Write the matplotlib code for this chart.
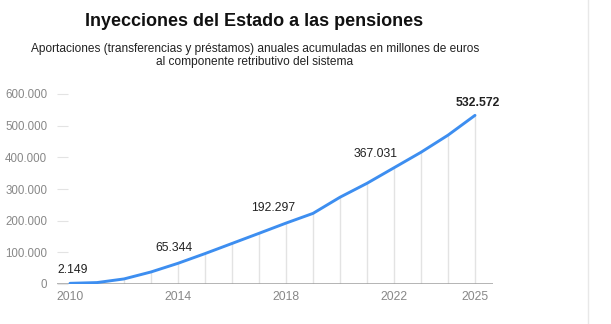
import matplotlib
matplotlib.use("Agg")
import matplotlib.pyplot as plt
from matplotlib.ticker import FuncFormatter

plt.rcParams['font.family'] = ['Liberation Sans', 'DejaVu Sans']

years = [2010, 2011, 2012, 2013, 2014, 2015, 2016, 2017,
         2018, 2019, 2020, 2021, 2022, 2023, 2024, 2025]
values = [2149, 4500, 16000, 38000, 65344, 96000, 128000, 160000,
          192297, 223000, 274000, 318000, 367031, 416000, 470000, 532572]
label_years = [2010, 2014, 2018, 2022, 2025]
label_texts = ["2.149", "65.344", "192.297", "367.031", "532.572"]
xtick_years = [2010, 2014, 2018, 2022, 2025]
ytick_values = [0, 100000, 200000, 300000, 400000, 500000, 600000]

title = "Inyecciones del Estado a las pensiones"
subtitle = ("Aportaciones (transferencias y préstamos) anuales acumuladas en millones de euros\n"
            "al componente retributivo del sistema")

W, H = 611, 324
fig = plt.figure(figsize=(W / 100, H / 100), dpi=100)
fig.patch.set_facecolor('white')

ax = fig.add_axes([57 / W, 1 - 284 / H, 436 / W, 190 / H])
ax.set_xlim(2010 - 13 / 27, 2025 + 18 / 27)
ax.set_ylim(0, 600000)

# vertical gridlines from baseline up to the curve
ax.vlines(years[1:], 0, values[1:], colors='#e3e3e3', linewidth=1.0, zorder=1)

ax.plot(years, values, color='#3d8ef0', linewidth=2.1, zorder=3,
        solid_capstyle='round', solid_joinstyle='round')

# baseline
ax.axhline(0, color='#9e9e9e', linewidth=1.8, zorder=2)

for s in ax.spines.values():
    s.set_visible(False)

ax.set_yticks(ytick_values)
ax.yaxis.set_major_formatter(FuncFormatter(lambda v, p: f"{int(v):,}".replace(",", ".")))
ax.tick_params(axis='y', direction='in', length=8, width=0.8, color='#e3e3e3',
               labelcolor='#888888', labelsize=8.3, pad=7)
ax.set_xticks(xtick_years)
ax.set_xticklabels([str(y) for y in xtick_years])
ax.tick_params(axis='x', length=0, labelcolor='#888888', labelsize=8.8, pad=5)

offsets = {2010: (3, 13), 2014: (-4, 15), 2018: (-13, 15), 2022: (-18, 14), 2025: (3, 12)}
for yr, txt in zip(label_years, label_texts):
    v = values[years.index(yr)]
    dx, dy = offsets[yr]
    ax.annotate(txt, (yr, v), xytext=(dx * 0.72, dy * 0.72), textcoords='offset points',
                ha='center', va='center', fontsize=8.8, color='#222222',
                fontweight='bold' if yr == 2025 else 'normal', annotation_clip=False)

fig.text(254 / W, 1 - 22 / H, title, ha='center', va='center',
         fontsize=13, fontweight='bold', color='#111111')
fig.text(255 / W, 1 - 55.5 / H, subtitle, ha='center', va='center',
         fontsize=8.6, color='#222222', linespacing=1.1)

# right panel border
fig.add_artist(plt.Line2D([588 / W, 588 / W], [0, 1], transform=fig.transFigure,
                          color='#e8e8e8', linewidth=1.0))

fig.savefig("out.png", dpi=100, facecolor='white')
